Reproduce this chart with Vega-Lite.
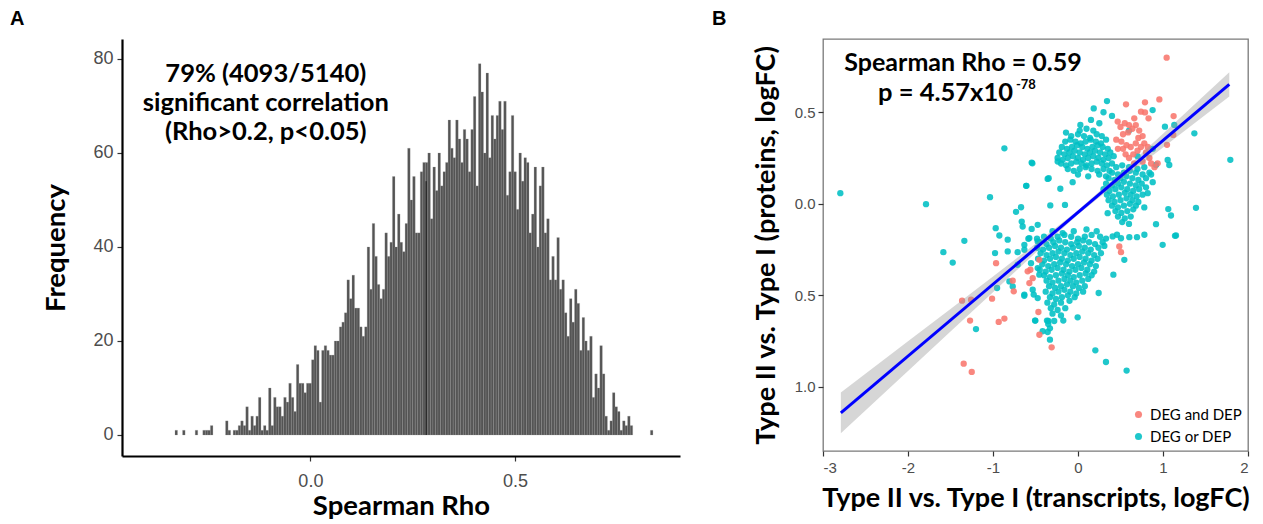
{
  "$schema": "https://vega.github.io/schema/vega-lite/v6.json",
  "background": "white",
  "padding": {"left": 10, "top": 8, "right": 0, "bottom": 0},
  "spacing": 31,
  "resolve": {"scale": {"color": "independent"}, "legend": {"color": "independent"}},
  "config": {"view": {"stroke": null}, "font": "Lato"},
  "datasets": {
    "hist": [
      {"rho": -0.3970, "n": 1}, {"rho": -0.3291, "n": 1}, {"rho": -0.3105, "n": 1}, {"rho": -0.2796, "n": 1},
      {"rho": -0.2611, "n": 1}, {"rho": -0.2549, "n": 1}, {"rho": -0.2487, "n": 1}, {"rho": -0.2425, "n": 2},
      {"rho": -0.2055, "n": 3}, {"rho": -0.1993, "n": 1},
      {"rho": -0.1869, "n": 1}, {"rho": -0.1807, "n": 1}, {"rho": -0.1745, "n": 2}, {"rho": -0.1684, "n": 3},
      {"rho": -0.1622, "n": 2}, {"rho": -0.1560, "n": 6}, {"rho": -0.1498, "n": 1}, {"rho": -0.1436, "n": 4},
      {"rho": -0.1375, "n": 2}, {"rho": -0.1313, "n": 4}, {"rho": -0.1251, "n": 8}, {"rho": -0.1189, "n": 1},
      {"rho": -0.1127, "n": 2}, {"rho": -0.1066, "n": 1}, {"rho": -0.1004, "n": 10}, {"rho": -0.0942, "n": 2},
      {"rho": -0.0880, "n": 8}, {"rho": -0.0818, "n": 6}, {"rho": -0.0757, "n": 6}, {"rho": -0.0695, "n": 4},
      {"rho": -0.0633, "n": 8}, {"rho": -0.0571, "n": 7}, {"rho": -0.0509, "n": 11}, {"rho": -0.0448, "n": 8},
      {"rho": -0.0386, "n": 5}, {"rho": -0.0324, "n": 15}, {"rho": -0.0262, "n": 11}, {"rho": -0.0200, "n": 11},
      {"rho": -0.0139, "n": 9}, {"rho": -0.0077, "n": 11}, {"rho": -0.0015, "n": 11}, {"rho": 0.0047, "n": 16},
      {"rho": 0.0109, "n": 19}, {"rho": 0.0170, "n": 18}, {"rho": 0.0232, "n": 7}, {"rho": 0.0294, "n": 18},
      {"rho": 0.0356, "n": 19}, {"rho": 0.0418, "n": 18}, {"rho": 0.0479, "n": 17}, {"rho": 0.0541, "n": 17},
      {"rho": 0.0603, "n": 20}, {"rho": 0.0665, "n": 20}, {"rho": 0.0727, "n": 23}, {"rho": 0.0788, "n": 24},
      {"rho": 0.0850, "n": 26}, {"rho": 0.0912, "n": 33}, {"rho": 0.0974, "n": 29}, {"rho": 0.1036, "n": 34},
      {"rho": 0.1097, "n": 27}, {"rho": 0.1159, "n": 27}, {"rho": 0.1221, "n": 23}, {"rho": 0.1283, "n": 21},
      {"rho": 0.1345, "n": 23}, {"rho": 0.1406, "n": 40}, {"rho": 0.1468, "n": 31}, {"rho": 0.1530, "n": 45},
      {"rho": 0.1592, "n": 38}, {"rho": 0.1654, "n": 32}, {"rho": 0.1715, "n": 29}, {"rho": 0.1777, "n": 31},
      {"rho": 0.1839, "n": 43}, {"rho": 0.1901, "n": 38}, {"rho": 0.1963, "n": 41}, {"rho": 0.2024, "n": 55},
      {"rho": 0.2086, "n": 40}, {"rho": 0.2148, "n": 47}, {"rho": 0.2210, "n": 41}, {"rho": 0.2272, "n": 39},
      {"rho": 0.2333, "n": 45}, {"rho": 0.2395, "n": 61}, {"rho": 0.2457, "n": 50}, {"rho": 0.2519, "n": 55},
      {"rho": 0.2581, "n": 43}, {"rho": 0.2642, "n": 43}, {"rho": 0.2704, "n": 56}, {"rho": 0.2766, "n": 58},
      {"rho": 0.2828, "n": 58}, {"rho": 0.2890, "n": 60}, {"rho": 0.2951, "n": 46}, {"rho": 0.3013, "n": 57},
      {"rho": 0.3075, "n": 52}, {"rho": 0.3137, "n": 60}, {"rho": 0.3199, "n": 53}, {"rho": 0.3260, "n": 56},
      {"rho": 0.3322, "n": 58}, {"rho": 0.3384, "n": 67}, {"rho": 0.3446, "n": 61}, {"rho": 0.3508, "n": 59},
      {"rho": 0.3569, "n": 67}, {"rho": 0.3631, "n": 63}, {"rho": 0.3693, "n": 58}, {"rho": 0.3755, "n": 65},
      {"rho": 0.3817, "n": 63}, {"rho": 0.3878, "n": 56}, {"rho": 0.3940, "n": 65}, {"rho": 0.4002, "n": 72},
      {"rho": 0.4064, "n": 53}, {"rho": 0.4126, "n": 79}, {"rho": 0.4187, "n": 73}, {"rho": 0.4249, "n": 60},
      {"rho": 0.4311, "n": 77}, {"rho": 0.4373, "n": 59}, {"rho": 0.4435, "n": 68}, {"rho": 0.4496, "n": 63},
      {"rho": 0.4558, "n": 68}, {"rho": 0.4620, "n": 71}, {"rho": 0.4682, "n": 65}, {"rho": 0.4744, "n": 71},
      {"rho": 0.4805, "n": 51}, {"rho": 0.4867, "n": 56}, {"rho": 0.4929, "n": 68}, {"rho": 0.4991, "n": 56},
      {"rho": 0.5053, "n": 48}, {"rho": 0.5114, "n": 60}, {"rho": 0.5176, "n": 54}, {"rho": 0.5238, "n": 59},
      {"rho": 0.5300, "n": 58}, {"rho": 0.5362, "n": 43}, {"rho": 0.5423, "n": 47}, {"rho": 0.5485, "n": 57},
      {"rho": 0.5547, "n": 40}, {"rho": 0.5609, "n": 53}, {"rho": 0.5671, "n": 57}, {"rho": 0.5732, "n": 43},
      {"rho": 0.5794, "n": 46}, {"rho": 0.5856, "n": 33}, {"rho": 0.5918, "n": 38}, {"rho": 0.5980, "n": 33},
      {"rho": 0.6041, "n": 42}, {"rho": 0.6103, "n": 31}, {"rho": 0.6165, "n": 33}, {"rho": 0.6227, "n": 26},
      {"rho": 0.6289, "n": 21}, {"rho": 0.6350, "n": 29}, {"rho": 0.6412, "n": 24}, {"rho": 0.6474, "n": 31},
      {"rho": 0.6536, "n": 28}, {"rho": 0.6598, "n": 18}, {"rho": 0.6659, "n": 25}, {"rho": 0.6721, "n": 20},
      {"rho": 0.6783, "n": 18}, {"rho": 0.6845, "n": 21}, {"rho": 0.6907, "n": 8}, {"rho": 0.6968, "n": 13},
      {"rho": 0.7030, "n": 10}, {"rho": 0.7092, "n": 19}, {"rho": 0.7154, "n": 13}, {"rho": 0.7216, "n": 4},
      {"rho": 0.7277, "n": 1}, {"rho": 0.7339, "n": 3}, {"rho": 0.7401, "n": 9}, {"rho": 0.7463, "n": 6},
      {"rho": 0.7525, "n": 5}, {"rho": 0.7586, "n": 1}, {"rho": 0.7648, "n": 3}, {"rho": 0.7710, "n": 2},
      {"rho": 0.7772, "n": 4}, {"rho": 0.7834, "n": 2}, {"rho": 0.8328, "n": 1}
    ],
    "cyan": [
      {"x": 0.02, "y": 0.40}, {"x": 0.10, "y": 0.41}, {"x": 0.18, "y": 0.40},
      {"x": -0.08, "y": 0.37}, {"x": 0.00, "y": 0.38}, {"x": 0.07, "y": 0.37}, {"x": 0.14, "y": 0.36}, {"x": 0.22, "y": 0.38}, {"x": 0.28, "y": 0.37},
      {"x": -0.15, "y": 0.34}, {"x": -0.09, "y": 0.35}, {"x": -0.03, "y": 0.34}, {"x": 0.03, "y": 0.33}, {"x": 0.09, "y": 0.34}, {"x": 0.15, "y": 0.35}, {"x": 0.21, "y": 0.34}, {"x": 0.27, "y": 0.33}, {"x": 0.33, "y": 0.35},
      {"x": -0.19, "y": 0.31}, {"x": -0.13, "y": 0.30}, {"x": -0.07, "y": 0.31}, {"x": -0.01, "y": 0.32}, {"x": 0.05, "y": 0.31}, {"x": 0.11, "y": 0.30}, {"x": 0.17, "y": 0.31}, {"x": 0.23, "y": 0.32}, {"x": 0.29, "y": 0.31}, {"x": 0.35, "y": 0.30},
      {"x": -0.22, "y": 0.28}, {"x": -0.16, "y": 0.27}, {"x": -0.10, "y": 0.28}, {"x": -0.04, "y": 0.29}, {"x": 0.02, "y": 0.28}, {"x": 0.08, "y": 0.27}, {"x": 0.14, "y": 0.28}, {"x": 0.20, "y": 0.29}, {"x": 0.26, "y": 0.28}, {"x": 0.32, "y": 0.27}, {"x": 0.38, "y": 0.28},
      {"x": -0.24, "y": 0.25}, {"x": -0.18, "y": 0.24}, {"x": -0.12, "y": 0.25}, {"x": -0.06, "y": 0.26}, {"x": 0.00, "y": 0.25}, {"x": 0.06, "y": 0.24}, {"x": 0.12, "y": 0.25}, {"x": 0.18, "y": 0.26}, {"x": 0.24, "y": 0.25}, {"x": 0.30, "y": 0.24}, {"x": 0.36, "y": 0.25}, {"x": 0.42, "y": 0.26},
      {"x": -0.20, "y": 0.22}, {"x": -0.14, "y": 0.21}, {"x": -0.08, "y": 0.22}, {"x": -0.02, "y": 0.23}, {"x": 0.04, "y": 0.22}, {"x": 0.10, "y": 0.21}, {"x": 0.16, "y": 0.22}, {"x": 0.22, "y": 0.23}, {"x": 0.28, "y": 0.22}, {"x": 0.34, "y": 0.21}, {"x": 0.40, "y": 0.22},
      {"x": -0.12, "y": 0.19}, {"x": -0.05, "y": 0.18}, {"x": 0.02, "y": 0.19}, {"x": 0.09, "y": 0.20}, {"x": 0.16, "y": 0.19}, {"x": 0.23, "y": 0.18}, {"x": 0.30, "y": 0.19}, {"x": 0.37, "y": 0.18},
      {"x": 0.00, "y": 0.16}, {"x": 0.12, "y": 0.15}, {"x": 0.25, "y": 0.16}, {"x": 0.33, "y": 0.15},
      {"x": 0.45, "y": 0.20}, {"x": 0.52, "y": 0.21}, {"x": 0.60, "y": 0.20}, {"x": 0.70, "y": 0.19}, {"x": 0.78, "y": 0.20},
      {"x": 0.40, "y": 0.17}, {"x": 0.47, "y": 0.16}, {"x": 0.54, "y": 0.17}, {"x": 0.61, "y": 0.18}, {"x": 0.68, "y": 0.17}, {"x": 0.76, "y": 0.16}, {"x": 0.84, "y": 0.17},
      {"x": 0.36, "y": 0.14}, {"x": 0.43, "y": 0.13}, {"x": 0.50, "y": 0.14}, {"x": 0.57, "y": 0.15}, {"x": 0.64, "y": 0.14}, {"x": 0.71, "y": 0.13}, {"x": 0.80, "y": 0.14},
      {"x": 0.33, "y": 0.11}, {"x": 0.40, "y": 0.10}, {"x": 0.47, "y": 0.11}, {"x": 0.54, "y": 0.12}, {"x": 0.61, "y": 0.11}, {"x": 0.68, "y": 0.10}, {"x": 0.75, "y": 0.11},
      {"x": 0.30, "y": 0.08}, {"x": 0.37, "y": 0.07}, {"x": 0.44, "y": 0.08}, {"x": 0.51, "y": 0.09}, {"x": 0.58, "y": 0.08}, {"x": 0.65, "y": 0.07}, {"x": 0.72, "y": 0.08}, {"x": 0.80, "y": 0.09},
      {"x": 0.34, "y": 0.05}, {"x": 0.41, "y": 0.04}, {"x": 0.48, "y": 0.05}, {"x": 0.55, "y": 0.06}, {"x": 0.62, "y": 0.05}, {"x": 0.69, "y": 0.04}, {"x": 0.76, "y": 0.05},
      {"x": 0.36, "y": 0.02}, {"x": 0.43, "y": 0.01}, {"x": 0.50, "y": 0.02}, {"x": 0.57, "y": 0.03}, {"x": 0.64, "y": 0.02}, {"x": 0.71, "y": 0.01},
      {"x": 0.40, "y": -0.01}, {"x": 0.47, "y": -0.02}, {"x": 0.54, "y": -0.01}, {"x": 0.61, "y": 0.00}, {"x": 0.68, "y": -0.01}, {"x": 0.78, "y": -0.02},
      {"x": 0.44, "y": -0.04}, {"x": 0.51, "y": -0.05}, {"x": 0.58, "y": -0.04}, {"x": 0.65, "y": -0.03},
      {"x": 0.47, "y": -0.07}, {"x": 0.55, "y": -0.08}, {"x": 0.62, "y": -0.07},
      {"x": 0.52, "y": -0.10}, {"x": 0.60, "y": -0.11},
      {"x": -0.30, "y": -0.15}, {"x": -0.18, "y": -0.16}, {"x": -0.05, "y": -0.15}, {"x": 0.10, "y": -0.14}, {"x": 0.22, "y": -0.15},
      {"x": -0.40, "y": -0.18}, {"x": -0.32, "y": -0.19}, {"x": -0.24, "y": -0.18}, {"x": -0.16, "y": -0.17}, {"x": -0.08, "y": -0.18}, {"x": 0.00, "y": -0.19}, {"x": 0.08, "y": -0.18}, {"x": 0.16, "y": -0.17}, {"x": 0.26, "y": -0.18}, {"x": 0.33, "y": -0.19},
      {"x": -0.45, "y": -0.21}, {"x": -0.37, "y": -0.22}, {"x": -0.29, "y": -0.21}, {"x": -0.22, "y": -0.20}, {"x": -0.15, "y": -0.21}, {"x": -0.08, "y": -0.22}, {"x": -0.01, "y": -0.21}, {"x": 0.06, "y": -0.20}, {"x": 0.13, "y": -0.21}, {"x": 0.20, "y": -0.22}, {"x": 0.29, "y": -0.21},
      {"x": -0.48, "y": -0.24}, {"x": -0.41, "y": -0.25}, {"x": -0.34, "y": -0.24}, {"x": -0.27, "y": -0.23}, {"x": -0.20, "y": -0.24}, {"x": -0.13, "y": -0.25}, {"x": -0.06, "y": -0.24}, {"x": 0.01, "y": -0.23}, {"x": 0.08, "y": -0.24}, {"x": 0.15, "y": -0.25}, {"x": 0.24, "y": -0.24}, {"x": 0.31, "y": -0.23},
      {"x": -0.44, "y": -0.27}, {"x": -0.37, "y": -0.28}, {"x": -0.30, "y": -0.27}, {"x": -0.23, "y": -0.26}, {"x": -0.16, "y": -0.27}, {"x": -0.09, "y": -0.28}, {"x": -0.02, "y": -0.27}, {"x": 0.05, "y": -0.26}, {"x": 0.12, "y": -0.27}, {"x": 0.19, "y": -0.28}, {"x": 0.27, "y": -0.27},
      {"x": -0.47, "y": -0.30}, {"x": -0.40, "y": -0.31}, {"x": -0.33, "y": -0.30}, {"x": -0.26, "y": -0.29}, {"x": -0.19, "y": -0.30}, {"x": -0.12, "y": -0.31}, {"x": -0.05, "y": -0.30}, {"x": 0.02, "y": -0.29}, {"x": 0.09, "y": -0.30}, {"x": 0.16, "y": -0.31}, {"x": 0.23, "y": -0.30},
      {"x": -0.42, "y": -0.33}, {"x": -0.35, "y": -0.34}, {"x": -0.28, "y": -0.33}, {"x": -0.21, "y": -0.32}, {"x": -0.14, "y": -0.33}, {"x": -0.07, "y": -0.34}, {"x": 0.00, "y": -0.33}, {"x": 0.07, "y": -0.32}, {"x": 0.14, "y": -0.33}, {"x": 0.21, "y": -0.34},
      {"x": -0.45, "y": -0.36}, {"x": -0.38, "y": -0.37}, {"x": -0.31, "y": -0.36}, {"x": -0.24, "y": -0.35}, {"x": -0.17, "y": -0.36}, {"x": -0.10, "y": -0.37}, {"x": -0.03, "y": -0.36}, {"x": 0.04, "y": -0.35}, {"x": 0.11, "y": -0.36}, {"x": 0.19, "y": -0.37},
      {"x": -0.40, "y": -0.39}, {"x": -0.33, "y": -0.40}, {"x": -0.26, "y": -0.39}, {"x": -0.19, "y": -0.38}, {"x": -0.12, "y": -0.39}, {"x": -0.05, "y": -0.40}, {"x": 0.02, "y": -0.39}, {"x": 0.09, "y": -0.38}, {"x": 0.16, "y": -0.39},
      {"x": -0.37, "y": -0.42}, {"x": -0.30, "y": -0.43}, {"x": -0.23, "y": -0.42}, {"x": -0.16, "y": -0.41}, {"x": -0.09, "y": -0.42}, {"x": -0.02, "y": -0.43}, {"x": 0.05, "y": -0.42}, {"x": 0.12, "y": -0.41},
      {"x": -0.34, "y": -0.45}, {"x": -0.27, "y": -0.46}, {"x": -0.20, "y": -0.45}, {"x": -0.13, "y": -0.44}, {"x": -0.06, "y": -0.45}, {"x": 0.01, "y": -0.46}, {"x": 0.08, "y": -0.45},
      {"x": -0.38, "y": -0.48}, {"x": -0.30, "y": -0.49}, {"x": -0.23, "y": -0.48}, {"x": -0.16, "y": -0.47}, {"x": -0.09, "y": -0.48}, {"x": -0.02, "y": -0.49}, {"x": 0.06, "y": -0.48},
      {"x": -0.33, "y": -0.51}, {"x": -0.26, "y": -0.52}, {"x": -0.19, "y": -0.51}, {"x": -0.12, "y": -0.50}, {"x": -0.04, "y": -0.51},
      {"x": -0.36, "y": -0.54}, {"x": -0.28, "y": -0.55}, {"x": -0.20, "y": -0.54}, {"x": -0.10, "y": -0.53},
      {"x": -0.32, "y": -0.57}, {"x": -0.24, "y": -0.58}, {"x": -0.15, "y": -0.57},
      {"x": -0.30, "y": -0.60}, {"x": -0.20, "y": -0.61},
      {"x": -0.28, "y": -0.64}, {"x": -0.35, "y": -0.64}, {"x": -0.33, "y": -0.68},
      {"x": -2.796, "y": 0.058}, {"x": -1.788, "y": -0.002}, {"x": -0.866, "y": 0.303}, {"x": -0.537, "y": 0.221},
      {"x": -0.607, "y": 0.098}, {"x": -1.035, "y": 0.036}, {"x": -0.67, "y": -0.019}, {"x": -0.729, "y": -0.044},
      {"x": -0.662, "y": -0.097}, {"x": -0.968, "y": -0.133}, {"x": -0.925, "y": -0.173}, {"x": -1.337, "y": -0.202},
      {"x": -1.584, "y": -0.264}, {"x": -1.474, "y": -0.321}, {"x": -0.651, "y": -0.124}, {"x": -0.545, "y": -0.137},
      {"x": -0.474, "y": -0.115}, {"x": -0.584, "y": -0.191}, {"x": -0.482, "y": -0.191}, {"x": -0.976, "y": -0.269},
      {"x": -0.827, "y": -0.26}, {"x": -0.71, "y": -0.264}, {"x": -0.631, "y": -0.251}, {"x": -0.952, "y": -0.46},
      {"x": -0.807, "y": -0.424}, {"x": -0.768, "y": -0.451}, {"x": -0.631, "y": -0.496}, {"x": -0.533, "y": -0.469},
      {"x": -0.521, "y": -0.496}, {"x": -0.474, "y": -0.515}, {"x": -0.505, "y": -0.638}, {"x": -1.2, "y": -0.684},
      {"x": -0.827, "y": -0.196}, {"x": -0.572, "y": -0.187}, {"x": -0.631, "y": -0.224}, {"x": -0.474, "y": -0.206},
      {"x": -0.71, "y": -0.333}, {"x": -0.553, "y": -0.324}, {"x": -0.474, "y": -0.351}, {"x": -0.455, "y": -0.387},
      {"x": 0.341, "y": 0.561}, {"x": 0.185, "y": 0.521}, {"x": 0.878, "y": 0.512}, {"x": 1.023, "y": 0.421},
      {"x": 1.133, "y": 0.431}, {"x": 1.369, "y": 0.385}, {"x": 1.792, "y": 0.240}, {"x": 1.388, "y": -0.022},
      {"x": 1.062, "y": -0.029}, {"x": 1.094, "y": -0.064}, {"x": 1.153, "y": -0.173}, {"x": 0.996, "y": -0.224},
      {"x": 0.918, "y": -0.111}, {"x": 0.028, "y": 0.431}, {"x": -0.141, "y": 0.389}, {"x": -0.545, "y": 0.225},
      {"x": -0.357, "y": 0.136}, {"x": -0.61, "y": 0.098}, {"x": -0.208, "y": 0.082}, {"x": -0.063, "y": 0.118},
      {"x": -0.153, "y": -0.006}, {"x": -0.326, "y": -0.009}, {"x": 0.349, "y": -0.051}, {"x": 1.055, "y": 0.239},
      {"x": 1.074, "y": 0.212}, {"x": 0.82, "y": 0.058}, {"x": 0.879, "y": 0.118}, {"x": 0.918, "y": 0.212},
      {"x": 0.86, "y": 0.16}, {"x": 0.153, "y": 0.458}, {"x": 0.251, "y": 0.44}, {"x": 0.30, "y": 0.50},
      {"x": 0.40, "y": 0.48}, {"x": -0.239, "y": 0.231}, {"x": -0.345, "y": 0.140}, {"x": 0.408, "y": -0.178},
      {"x": 0.459, "y": -0.169}, {"x": 0.506, "y": -0.188}, {"x": 0.604, "y": -0.182}, {"x": 0.694, "y": -0.182},
      {"x": 0.781, "y": -0.169}, {"x": 0.545, "y": -0.306}, {"x": 0.416, "y": -0.387}, {"x": 0.243, "y": -0.487},
      {"x": -0.004, "y": -0.62}, {"x": -0.173, "y": -0.638}, {"x": -0.502, "y": -0.638}, {"x": -0.33, "y": -0.742},
      {"x": -0.416, "y": -0.696}, {"x": -0.357, "y": -0.70}, {"x": -0.365, "y": -0.638}, {"x": -0.35, "y": -0.656},
      {"x": -0.632, "y": -0.502}, {"x": 0.204, "y": -0.80}, {"x": 0.329, "y": -0.864}, {"x": 0.572, "y": -0.911},
      {"x": 1.141, "y": -0.175}, {"x": 0.60, "y": 0.40}, {"x": 0.70, "y": 0.26}, {"x": 0.88, "y": 0.30}
    ],
    "salmon": [
      {"x": 1.043, "y": 0.798}, {"x": 0.565, "y": 0.543}, {"x": 0.788, "y": 0.554}, {"x": 0.957, "y": 0.570},
      {"x": 0.741, "y": 0.503}, {"x": 0.788, "y": 0.499}, {"x": 0.83, "y": 0.467}, {"x": 0.662, "y": 0.467},
      {"x": 1.125, "y": 0.479}, {"x": 1.121, "y": 0.376}, {"x": 1.047, "y": 0.322}, {"x": 0.937, "y": 0.221},
      {"x": 0.467, "y": 0.449},
      {"x": 0.50, "y": 0.42}, {"x": 0.55, "y": 0.44}, {"x": 0.60, "y": 0.43}, {"x": 0.68, "y": 0.43},
      {"x": 0.72, "y": 0.40}, {"x": 0.76, "y": 0.37}, {"x": 0.78, "y": 0.33}, {"x": 0.53, "y": 0.38},
      {"x": 0.51, "y": 0.34}, {"x": 0.53, "y": 0.30}, {"x": 0.56, "y": 0.27}, {"x": 0.60, "y": 0.25},
      {"x": 0.65, "y": 0.27}, {"x": 0.70, "y": 0.29}, {"x": 0.74, "y": 0.31}, {"x": 0.80, "y": 0.28},
      {"x": 0.84, "y": 0.25}, {"x": 0.62, "y": 0.31}, {"x": 0.68, "y": 0.33}, {"x": 0.76, "y": 0.23},
      {"x": 0.86, "y": 0.22}, {"x": 0.57, "y": 0.32}, {"x": 0.47, "y": 0.30}, {"x": 0.45, "y": 0.35},
      {"x": 0.71, "y": 0.36}, {"x": 0.59, "y": 0.39}, {"x": 0.64, "y": 0.41}, {"x": 0.82, "y": 0.31},
      {"x": 0.66, "y": 0.22}, {"x": 0.90, "y": 0.20},
      {"x": -1.364, "y": -0.529}, {"x": -1.258, "y": -0.524}, {"x": -1.27, "y": -0.638}, {"x": -1.011, "y": -0.518},
      {"x": -0.933, "y": -0.645}, {"x": -0.866, "y": -0.627}, {"x": -1.345, "y": -0.873}, {"x": -1.25, "y": -0.918},
      {"x": -0.964, "y": -0.324}, {"x": -0.768, "y": -0.42}, {"x": -0.756, "y": -0.478}, {"x": -0.592, "y": -0.369},
      {"x": -0.56, "y": -0.36}, {"x": -0.572, "y": -0.433}, {"x": -0.533, "y": -0.406}, {"x": -0.466, "y": -0.591},
      {"x": -0.454, "y": -0.715}, {"x": -0.31, "y": -0.784}, {"x": -0.455, "y": -0.306}, {"x": 0.486, "y": -0.233},
      {"x": 0.506, "y": -0.264}
    ],
    "band": [
      {"x": -2.79, "lo": -1.253, "hi": -1.031}, {"x": -2.0, "lo": -0.913, "hi": -0.751},
      {"x": -1.5, "lo": -0.698, "hi": -0.574}, {"x": -1.0, "lo": -0.483, "hi": -0.397},
      {"x": -0.5, "lo": -0.268, "hi": -0.218}, {"x": 0.0, "lo": -0.059, "hi": -0.035},
      {"x": 0.5, "lo": 0.129, "hi": 0.169}, {"x": 1.0, "lo": 0.308, "hi": 0.383},
      {"x": 1.5, "lo": 0.486, "hi": 0.598}, {"x": 1.78, "lo": 0.586, "hi": 0.718}
    ],
    "fit": [{"x": -2.79, "y": -1.142}, {"x": 1.78, "y": 0.652}]
  },
  "hconcat": [
    {
      "width": 558,
      "height": 417,
      "title": {"text": "A", "anchor": "start", "frame": "group", "dx": -112, "offset": 10, "fontSize": 20, "font": "Liberation Sans", "fontWeight": "bold", "color": "black"},
      "layer": [
        {
          "data": {"name": "hist"},
          "transform": [{"bin": {"step": 0.00618, "anchor": -0.19, "nice": false}, "field": "rho", "as": ["lo", "hi"]}],
          "mark": {"type": "bar", "fill": "#545454", "stroke": "#9a9a9a", "strokeWidth": 0.25, "binSpacing": 0},
          "encoding": {
            "x": {"field": "lo", "type": "quantitative", "bin": "binned", "title": "Spearman Rho",
              "scale": {"domain": [-0.4604, 0.9033], "nice": false, "zero": false},
              "axis": {"values": [0, 0.5], "format": ".1f", "grid": false, "domainColor": "black", "domainWidth": 2.2,
                "tickColor": "#333333", "tickSize": 5, "tickWidth": 1.2, "labelFont": "Liberation Sans", "labelFontSize": 18,
                "labelColor": "#4d4d4d", "labelPadding": 11, "titleFont": "Lato", "titleFontSize": 27.5, "titleFontWeight": "bold",
                "titleColor": "black", "titlePadding": 2}},
            "x2": {"field": "hi"},
            "y": {"field": "n", "type": "quantitative", "title": "Frequency",
              "scale": {"domain": [-4.47, 84.25], "nice": false, "zero": false},
              "axis": {"values": [0, 20, 40, 60, 80], "grid": false, "domainColor": "black", "domainWidth": 2.2,
                "tickColor": "#333333", "tickSize": 5, "tickWidth": 1.2, "labelFont": "Liberation Sans", "labelFontSize": 18,
                "labelColor": "#4d4d4d", "labelPadding": 4, "titleFont": "Lato", "titleFontSize": 27.5, "titleFontWeight": "bold",
                "titleColor": "black", "titlePadding": 22}}
          }
        },
        {
          "data": {"values": [{}]},
          "mark": {"type": "rule", "color": "#111111", "strokeWidth": 1},
          "encoding": {"x": {"datum": 0.2828, "type": "quantitative"}, "y": {"datum": 0, "type": "quantitative"}, "y2": {"datum": 54}}
        },
        {
          "data": {"values": [{}]},
          "mark": {"type": "text", "text": ["79% (4093/5140)", "significant correlation", "(Rho>0.2, p<0.05)"],
            "font": "Lato", "fontWeight": "bold", "fontSize": 25.5, "lineHeight": 29, "align": "center", "baseline": "middle", "color": "black"},
          "encoding": {"x": {"datum": -0.109, "type": "quantitative"}, "y": {"datum": 76.7, "type": "quantitative"}}
        }
      ]
    },
    {
      "width": 425,
      "height": 412,
      "title": {"text": "B", "anchor": "start", "frame": "group", "dx": -111, "offset": 10, "fontSize": 20, "font": "Liberation Sans", "fontWeight": "bold", "color": "black"},
      "view": {"stroke": "#7a7a7a", "strokeWidth": 1.3},
      "layer": [
        {
          "data": {"name": "cyan"},
          "mark": {"type": "circle", "size": 40, "opacity": 0.88},
          "encoding": {
            "x": {"field": "x", "type": "quantitative", "title": "Type II vs. Type I (transcripts, logFC)",
              "scale": {"domain": [-3, 2], "nice": false, "zero": false},
              "axis": {"values": [-3, -2, -1, 0, 1, 2], "labelExpr": "datum.value < 0 ? '-' + abs(datum.value) : '' + datum.value",
                "grid": false, "domain": false, "tickColor": "#333333", "tickSize": 5, "tickWidth": 1.2,
                "labelFont": "Liberation Sans", "labelFontSize": 15, "labelColor": "#4d4d4d", "labelPadding": 4,
                "titleFont": "Lato", "titleFontSize": 27, "titleFontWeight": "bold", "titleColor": "black", "titlePadding": 10}},
            "y": {"field": "y", "type": "quantitative", "title": "Type II vs. Type I (proteins, logFC)",
              "scale": {"domain": [-1.35, 0.9], "nice": false, "zero": false},
              "axis": {"values": [-1, -0.5, 0, 0.5], "labelExpr": "format(abs(datum.value), '.1f')",
                "grid": false, "domain": false, "tickColor": "#333333", "tickSize": 5, "tickWidth": 1.2,
                "labelFont": "Liberation Sans", "labelFontSize": 15, "labelColor": "#4d4d4d", "labelPadding": 3,
                "titleFont": "Lato", "titleFontSize": 27, "titleFontWeight": "bold", "titleColor": "black", "titlePadding": 14}},
            "color": {"datum": "DEG or DEP", "type": "nominal",
              "scale": {"domain": ["DEG and DEP", "DEG or DEP"], "range": ["#F8766D", "#00BFC4"]},
              "legend": {"title": null, "orient": "bottom-right", "offset": 6, "labelFont": "Lato", "labelFontSize": 15,
                "labelColor": "black", "symbolType": "circle", "symbolSize": 50, "symbolOpacity": 0.85, "symbolStrokeWidth": 0, "rowPadding": 6}}
          }
        },
        {
          "data": {"name": "salmon"},
          "mark": {"type": "circle", "size": 40, "opacity": 0.88},
          "encoding": {
            "x": {"field": "x", "type": "quantitative"},
            "y": {"field": "y", "type": "quantitative"},
            "color": {"datum": "DEG and DEP", "type": "nominal"}
          }
        },
        {
          "data": {"name": "band"},
          "mark": {"type": "area", "fill": "#999999", "opacity": 0.4},
          "encoding": {
            "x": {"field": "x", "type": "quantitative"},
            "y": {"field": "lo", "type": "quantitative"},
            "y2": {"field": "hi"}
          }
        },
        {
          "data": {"name": "fit"},
          "mark": {"type": "line", "color": "#0000FF", "strokeWidth": 3},
          "encoding": {
            "x": {"field": "x", "type": "quantitative"},
            "y": {"field": "y", "type": "quantitative"}
          }
        },
        {
          "data": {"values": [{}]},
          "mark": {"type": "text", "text": "Spearman Rho = 0.59", "font": "Lato", "fontWeight": "bold", "fontSize": 25, "align": "center", "baseline": "middle", "color": "black"},
          "encoding": {"x": {"datum": -1.353, "type": "quantitative"}, "y": {"datum": 0.767, "type": "quantitative"}}
        },
        {
          "data": {"values": [{}]},
          "mark": {"type": "text", "text": "p = 4.57x10", "font": "Lato", "fontWeight": "bold", "fontSize": 25.5, "align": "right", "baseline": "middle", "color": "black"},
          "encoding": {"x": {"datum": -0.765, "type": "quantitative"}, "y": {"datum": 0.606, "type": "quantitative"}}
        },
        {
          "data": {"values": [{}]},
          "mark": {"type": "text", "text": "-78", "font": "Lato", "fontWeight": "bold", "fontSize": 13, "align": "left", "baseline": "middle", "color": "black"},
          "encoding": {"x": {"datum": -0.73, "type": "quantitative"}, "y": {"datum": 0.65, "type": "quantitative"}}
        }
      ]
    }
  ]
}
